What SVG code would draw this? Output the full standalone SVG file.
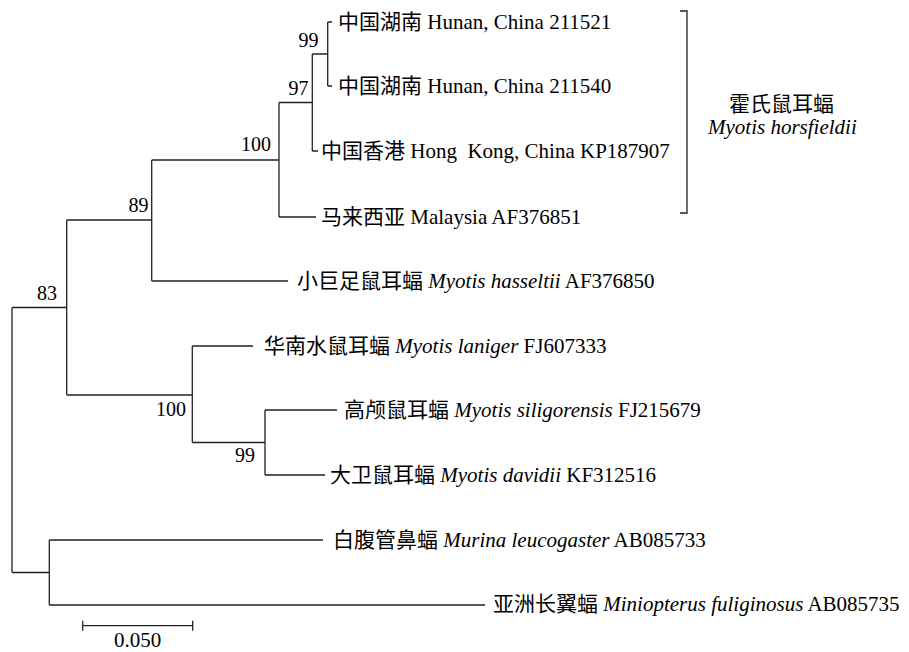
<svg xmlns="http://www.w3.org/2000/svg" width="909" height="652" viewBox="0 0 909 652">
<style>
text { font-family: "Liberation Serif", "Noto Sans CJK SC", serif; font-size: 21px; fill: #000; }
.bs { font-size: 20px; text-anchor: end; }
.sp { font-style: italic; }
.br { fill: none; stroke: #222; stroke-width: 1.3; }
</style>
<rect width="909" height="652" fill="#fff"/>
<g id="connectors" class="br">
<path d="M12,307.5V572.5M12,307.5H66.7M66.7,220V395M66.7,220H151.7M151.7,160V281M151.7,160H279M279,102.5V217M279,102.5H312.3M312.3,54V151M312.3,54H327.7M327.7,22V86M327.7,22H332M327.7,86H332M312.3,151H318M279,217H316M151.7,281H288"/>
<path d="M66.7,395H192.3M192.3,346V442.5M192.3,346H253M192.3,442.5H265M265,410V475M265,410H337M265,475H325"/>
<path d="M12,572.5H49.3M49.3,540V605M49.3,540H323M49.3,605H485"/>
</g>
<g id="bootstrap">
<text class="bs" x="318.5" y="47">99</text>
<text class="bs" x="308.5" y="94.5">97</text>
<text class="bs" x="271" y="151">100</text>
<text class="bs" x="148.5" y="212">89</text>
<text class="bs" x="57" y="300">83</text>
<text class="bs" x="186" y="416">100</text>
<text class="bs" x="255" y="462">99</text>
</g>
<g id="leaf-211521"><text x="338" y="29">中国湖南 Hunan, China 211521</text></g>
<g id="leaf-211540"><text x="338" y="93">中国湖南 Hunan, China 211540</text></g>
<g id="leaf-KP187907"><text x="321" y="158" xml:space="preserve">中国香港 Hong  Kong, China KP187907</text></g>
<g id="leaf-AF376851"><text x="321" y="224">马来西亚 Malaysia AF376851</text></g>
<g id="leaf-AF376850"><text x="297" y="288">小巨足鼠耳蝠 <tspan class="sp">Myotis hasseltii</tspan> AF376850</text></g>
<g id="leaf-FJ607333"><text x="264" y="353">华南水鼠耳蝠 <tspan class="sp">Myotis laniger</tspan> FJ607333</text></g>
<g id="leaf-FJ215679"><text x="344" y="417">高颅鼠耳蝠 <tspan class="sp">Myotis siligorensis</tspan> FJ215679</text></g>
<g id="leaf-KF312516"><text x="330" y="482">大卫鼠耳蝠 <tspan class="sp">Myotis davidii</tspan> KF312516</text></g>
<g id="leaf-AB085733"><text x="333" y="547">白腹管鼻蝠 <tspan class="sp">Murina leucogaster</tspan> AB085733</text></g>
<g id="leaf-AB085735"><text x="493" y="611">亚洲长翼蝠 <tspan class="sp">Miniopterus fuliginosus</tspan> AB085735</text></g>
<g id="clade-horsfieldii">
<path class="br" d="M680,11H687V213H680"/>
<text x="729" y="111">霍氏鼠耳蝠</text>
<text class="sp" x="708" y="134">Myotis horsfieldii</text>
</g>
<g id="scale-bar">
<path class="br" d="M82.7,625.7H192.7M82.7,620.7V630.7M192.7,620.7V630.7"/>
<text x="137.7" y="647" text-anchor="middle">0.050</text>
</g>
</svg>
